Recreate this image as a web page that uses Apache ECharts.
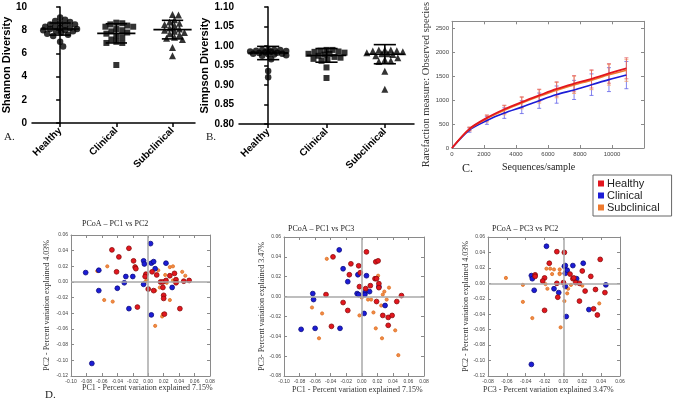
<!DOCTYPE html>
<html><head><meta charset="utf-8">
<script src="https://cdn.jsdelivr.net/npm/echarts@6/dist/echarts.min.js"></script>
<style>html,body{margin:0;padding:0;background:#fff}#c{width:674px;height:403px}</style>
</head><body><div id="c"></div>
<script>
const categories = ['Healthy','Clinical','Subclinical'];
// Panel A: Shannon diversity
const shannonHealthy = [9.1, 8.9, 8.8, 8.7, 8.6, 8.5, 8.5, 8.4, 8.3, 8.3, 8.2, 8.2, 8.1, 8.1, 8.0, 8.0, 7.9, 7.9, 7.8, 7.7, 7.6, 7.5, 7.0, 6.6];
const shannonClinical = [8.65, 8.6, 8.5, 8.4, 8.3, 8.3, 8.1, 8.0, 7.9, 7.8, 7.7, 7.5, 7.4, 7.2, 7.0, 6.9, 6.9, 5.0];
const shannonSubclinical = [9.35, 9.3, 8.9, 8.7, 8.6, 8.5, 8.4, 8.2, 8.1, 8.0, 7.9, 7.8, 7.7, 7.6, 7.4, 7.3, 7.2, 6.5, 5.8];
const shannonMean = [8.1, 7.73, 8.05];
const shannonSD = [0.52, 0.83, 0.8];
// Panel B: Simpson diversity
const simpsonHealthy = [0.99, 0.99, 0.99, 0.99, 0.988, 0.987, 0.986, 0.985, 0.984, 0.983, 0.982, 0.98, 0.98, 0.979, 0.978, 0.976, 0.975, 0.966, 0.936, 0.92];
const simpsonClinical = [0.99, 0.99, 0.988, 0.986, 0.985, 0.983, 0.98, 0.98, 0.978, 0.975, 0.972, 0.97, 0.967, 0.965, 0.962, 0.945, 0.918];
const simpsonSubclinical = [0.99, 0.99, 0.99, 0.988, 0.987, 0.985, 0.983, 0.98, 0.98, 0.978, 0.975, 0.97, 0.965, 0.962, 0.96, 0.935, 0.889];
const simpsonMean = [0.982, 0.976, 0.979];
const simpsonSD = [0.017, 0.0175, 0.0245];
// Panel C: rarefaction
const rareX = [0, 1090, 2180, 3270, 4360, 5450, 6540, 7630, 8720, 9810, 10900];
const rareHealthy = [0, 400, 630, 810, 960, 1100, 1235, 1345, 1445, 1560, 1667];
const rareClinical = [0, 375, 575, 730, 855, 990, 1117, 1215, 1325, 1430, 1525];
const rareSubclinical = [0, 395, 615, 790, 940, 1080, 1210, 1320, 1420, 1530, 1625];
const rareHealthySD = [0, 35, 60, 85, 110, 130, 150, 170, 190, 205, 220];
const rareClinicalSD = [0, 45, 80, 110, 135, 160, 180, 200, 225, 250, 285];
const rareSubclinicalSD = [0, 40, 70, 95, 120, 140, 160, 180, 200, 215, 230];
// Panel D: PCoA  PC1 vs PC2
const d1Healthy = [[-0.047,0.041],[-0.038,0.032],[-0.041,0.013],[-0.025,0.043],[-0.019,0.027],[-0.017,0.019],[-0.016,0.017],[-0.014,-0.032],[-0.003,0.010],[-0.004,0.007],[0.000,-0.009],[0.005,0.013],[0.007,-0.011],[0.011,0.009],[0.016,0.000],[0.019,0.000],[0.019,-0.007],[0.020,-0.017],[0.020,-0.021],[0.021,-0.041],[0.023,0.002],[0.028,0.008],[0.034,0.011],[0.036,0.003],[0.036,-0.001],[0.041,-0.034],[0.046,0.001],[0.053,0.002]];
const d1Clinical = [[-0.081,0.012],[-0.064,0.015],[-0.064,-0.011],[-0.073,-0.104],[-0.040,-0.008],[-0.031,-0.001],[-0.029,0.007],[-0.020,0.007],[-0.025,-0.034],[-0.006,0.027],[-0.005,0.023],[-0.006,-0.003],[0.003,0.049],[0.004,0.024],[0.007,0.026],[0.009,0.017],[0.023,0.024],[0.031,-0.007],[0.004,-0.042]];
const d1Subclinical = [[-0.066,0.014],[-0.053,0.020],[-0.057,-0.023],[-0.046,-0.025],[-0.017,0.020],[-0.004,0.000],[-0.002,0.003],[0.013,0.015],[0.009,-0.011],[0.015,-0.007],[0.022,0.009],[0.024,-0.001],[0.028,0.019],[0.032,0.020],[0.032,0.002],[0.037,-0.001],[0.044,0.013],[0.048,0.008],[0.028,-0.023],[0.018,-0.044],[0.009,-0.056],[0.019,-0.041]];
// PC1 vs PC3
const d2Healthy = [[-0.046,0.002],[-0.037,0.040],[-0.024,-0.006],[-0.018,-0.014],[-0.016,0.022],[-0.014,0.033],[-0.039,-0.030],[-0.004,0.031],[-0.002,0.024],[-0.003,0.010],[0.006,0.045],[0.005,0.008],[0.011,0.011],[0.017,0.018],[0.019,0.018],[0.018,0.035],[0.021,0.036],[0.022,0.013],[0.022,0.009],[0.019,-0.005],[0.027,-0.019],[0.034,-0.021],[0.039,-0.019],[0.034,-0.029],[0.045,-0.005],[0.051,0.001]];
const d2Clinical = [[-0.078,-0.033],[-0.063,0.003],[-0.062,-0.003],[-0.060,-0.032],[-0.029,0.047],[-0.024,0.028],[-0.018,0.015],[-0.006,0.003],[-0.005,0.022],[-0.004,0.002],[0.004,0.004],[0.004,0.002],[0.006,0.021],[0.010,0.005],[0.003,-0.017],[0.022,0.010],[0.030,-0.009],[-0.028,-0.032]];
const d2Subclinical = [[-0.045,0.038],[-0.064,-0.011],[-0.051,-0.017],[-0.055,-0.042],[-0.003,-0.019],[0.000,-0.001],[0.008,-0.003],[0.012,-0.003],[0.015,-0.016],[0.018,-0.032],[0.021,0.021],[0.025,-0.009],[0.027,0.002],[0.029,0.005],[0.032,-0.003],[0.035,0.009],[0.026,-0.042],[0.043,-0.034],[0.047,-0.059]];
// PC3 vs PC2
const d3Healthy = [[-0.007,0.041],[0.001,0.040],[-0.015,0.026],[-0.030,0.011],[-0.030,0.009],[-0.020,0.007],[-0.022,0.003],[-0.007,0.000],[0.000,0.001],[-0.006,-0.018],[-0.020,-0.035],[0.007,0.012],[0.010,0.006],[0.011,0.007],[0.013,0.001],[0.017,0.000],[0.020,0.016],[0.017,-0.023],[0.023,-0.010],[0.029,0.009],[0.034,-0.008],[0.032,-0.033],[0.036,-0.041],[0.039,0.031],[0.044,-0.012]];
const d3Clinical = [[-0.018,0.048],[-0.034,0.010],[-0.033,0.006],[-0.031,-0.009],[-0.034,-0.105],[-0.010,-0.007],[-0.005,-0.012],[0.001,0.022],[0.002,0.023],[0.002,0.013],[0.004,0.017],[0.002,-0.004],[0.010,0.023],[0.014,0.006],[0.021,0.026],[0.003,-0.043],[0.027,-0.034],[0.045,-0.002]];
const d3Subclinical = [[-0.061,0.007],[-0.043,-0.002],[-0.043,-0.024],[-0.033,-0.045],[-0.018,0.019],[-0.014,0.019],[-0.010,0.018],[-0.019,-0.001],[-0.017,-0.007],[-0.012,0.012],[-0.004,0.018],[-0.004,0.013],[-0.004,0.012],[0.001,-0.023],[0.004,-0.013],[0.005,-0.007],[-0.003,-0.057],[0.008,-0.002],[0.020,-0.003],[0.038,-0.026]];

const RED='#e3161e', BLUE='#1c1cd6', ORANGE='#ee7a2e';
const SERIF='"Liberation Serif","DejaVu Serif",serif';
const SANS='"Liberation Sans",Arial,sans-serif';

// deterministic beeswarm offsets (in category units), limited half-width
function swarm(vals, pxY, pxX, diam, maxW){
  const order = vals.map((v,i)=>i).sort((a,b)=>vals[b]-vals[a]);
  const placed=[], off=new Array(vals.length);
  for(const i of order){
    const y=vals[i]*pxY;
    let best=null, bestD=-1;
    for(let s=0;;s++){
      const k=Math.ceil(s/2)*(s%2?1:-1);
      if(Math.abs(k)>maxW) break;
      const md=placed.reduce((m,p)=>Math.min(m,Math.hypot(p[0]-k,p[1]-y)),1e9);
      if(md>=diam){best=k;bestD=md;break;}
      if(md>bestD){bestD=md;best=k;}
    }
    placed.push([best,y]); off[i]=best/pxX;
  }
  return off;
}
function swarmData(vals, idx, pxY, pxX, diam, maxW){
  const o=swarm(vals,pxY,pxX,diam,maxW);
  return vals.map((v,j)=>[idx+o[j], v]);
}
function meanSdSeries(xi, yi, means, sds){
  return {type:'custom', xAxisIndex:xi, yAxisIndex:yi, z:5, silent:true,
    data: means.map((m,i)=>[i,m,sds[i]]), encode:{x:0,y:1},
    renderItem:(params,api)=>{
      const i=api.value(0), m=api.value(1), s=api.value(2);
      const L=(a,b)=>({type:'line',shape:{x1:a[0],y1:a[1],x2:b[0],y2:b[1]},style:{stroke:'#000',lineWidth:1.6}});
      return {type:'group',children:[
        L(api.coord([i-0.34,m]),api.coord([i+0.34,m])),
        L(api.coord([i-0.19,m+s]),api.coord([i+0.19,m+s])),
        L(api.coord([i-0.19,m-s]),api.coord([i+0.19,m-s])),
        L(api.coord([i,m-s]),api.coord([i,m+s]))
      ]};
    }};
}
function errSeries(color, xs, ys, sds){
  return {type:'custom', xAxisIndex:2, yAxisIndex:2, silent:true, z:3,
    data: xs.map((x,i)=>[x,ys[i],sds[i]]).filter(d=>d[2]>0), encode:{x:0,y:1},
    renderItem:(params,api)=>{
      const x=api.value(0), y=api.value(1), s=api.value(2);
      const t=api.coord([x,y+s]), b=api.coord([x,y-s]);
      const st={stroke:color,lineWidth:1,opacity:0.75};
      return {type:'group',children:[
        {type:'line',shape:{x1:t[0],y1:t[1],x2:b[0],y2:b[1]},style:st},
        {type:'line',shape:{x1:t[0]-2,y1:t[1],x2:t[0]+2,y2:t[1]},style:st},
        {type:'line',shape:{x1:b[0]-2,y1:b[1],x2:b[0]+2,y2:b[1]},style:st}
      ]};
    }};
}
const boldLbl={fontFamily:SANS,fontWeight:'bold',fontSize:10,color:'#000'};
function catAxisX(grid,max){
  return {type:'value',gridIndex:grid,min:-0.5,max:max,
    axisLine:{lineStyle:{color:'#000',width:1.5}},splitLine:{show:false},
    axisTick:{customValues:[0,1,2],length:4,lineStyle:{color:'#000',width:1.5}},
    axisLabel:{customValues:[0,1,2],rotate:45,margin:6,formatter:v=>categories[Math.round(v)],...boldLbl}};
}
const grayLine={lineStyle:{color:'#8a8a8a',width:1}};
function boxAxes(grid,xmin,xmax,xint,ymin,ymax,yint,fs,lblFmt,showMax){
  const xa=[{type:'value',gridIndex:grid,min:xmin,max:xmax,interval:xint,position:'bottom',
      axisLine:{...grayLine,onZero:false},splitLine:{show:false},axisTick:{inside:true,length:3,...grayLine},
      axisLabel:{fontSize:fs,color:'#444',margin:3,fontFamily:SANS,formatter:lblFmt,showMaxLabel:showMax}},
    {type:'value',gridIndex:grid,min:xmin,max:xmax,interval:xint,position:'top',
      axisLine:{...grayLine,onZero:false},splitLine:{show:false},axisTick:{inside:true,length:3,...grayLine},axisLabel:{show:false}}];
  const ya=[{type:'value',gridIndex:grid,min:ymin,max:ymax,interval:yint,position:'left',
      axisLine:{...grayLine,onZero:false},splitLine:{show:false},axisTick:{inside:true,length:3,...grayLine},
      axisLabel:{fontSize:fs,color:'#444',margin:3,fontFamily:SANS,formatter:lblFmt,showMaxLabel:showMax}},
    {type:'value',gridIndex:grid,min:ymin,max:ymax,interval:yint,position:'right',
      axisLine:{...grayLine,onZero:false},splitLine:{show:false},axisTick:{inside:true,length:3,...grayLine},axisLabel:{show:false}}];
  return [xa,ya];
}
const f2=v=>v.toFixed(2);
const C=boxAxes(2,0,12000,2000,0,2650,500,6,v=>String(v),false);
const D1=boxAxes(3,-0.10,0.08,0.02,-0.12,0.06,0.02,5,f2,true);
const D2=boxAxes(4,-0.10,0.08,0.02,-0.08,0.06,0.02,5,f2,true);
const D3=boxAxes(5,-0.08,0.06,0.02,-0.12,0.06,0.02,5,f2,true);
C[1][0].name='Rarefaction measure: Observed species';
C[1][0].nameLocation='middle'; C[1][0].nameGap=17; C[1][0].nameTextStyle={fontFamily:SERIF,fontSize:10.5,color:'#333'};
const pcName=(ax,name,gap)=>{ax.name=name;ax.nameLocation='middle';ax.nameGap=gap;ax.nameTextStyle={fontFamily:SERIF,fontSize:8,color:'#333'};};
pcName(D1[1][0],'PC2 - Percent variation explained 4.03%',20);
pcName(D2[1][0],'PC3- Percent variation explained 3.47%',16);
pcName(D3[1][0],'PC2 - Percent variation explained 4.03%',17);

const xAxes=[catAxisX(0,2.4),catAxisX(1,2.5),...C[0],...D1[0],...D2[0],...D3[0]];
const yAxes=[
  {type:'value',gridIndex:0,min:0,max:10,interval:2,name:'Shannon Diversity',nameLocation:'middle',nameGap:18,
   nameTextStyle:{fontFamily:SANS,fontWeight:'bold',fontSize:11,color:'#000'},
   axisLine:{show:true,lineStyle:{color:'#000',width:1.5}},axisTick:{show:true,length:4,lineStyle:{color:'#000',width:1.5}},
   splitLine:{show:false},axisLabel:{margin:5,...boldLbl}},
  {type:'value',gridIndex:1,min:0.80,max:1.10,interval:0.05,name:'Simpson Diversity',nameLocation:'middle',nameGap:26,
   nameTextStyle:{fontFamily:SANS,fontWeight:'bold',fontSize:11,color:'#000'},
   axisLine:{show:true,lineStyle:{color:'#000',width:1.5}},axisTick:{show:true,length:4,lineStyle:{color:'#000',width:1.5}},
   splitLine:{show:false},axisLabel:{margin:5,formatter:f2,...boldLbl}},
  ...C[1],...D1[1],...D2[1],...D3[1]];

function pcoa(name,xi,yi,data,color,border,size,z){
  return {type:'scatter',name:name,xAxisIndex:xi,yAxisIndex:yi,data:data,z:z,silent:true,
    symbol:'circle',symbolSize:size,itemStyle:{color:color,borderColor:border,borderWidth:0.8,opacity:1}};
}
function zeroLines(xi,yi){
  return {type:'line',xAxisIndex:xi,yAxisIndex:yi,data:[],silent:true,z:1,
    markLine:{silent:true,symbol:'none',label:{show:false},animation:false,
      lineStyle:{color:'#a8a8a8',width:1.5,type:'solid'},data:[{xAxis:0},{yAxis:0}]}};
}
const blk={color:'#000'};
const series=[
  {type:'line',name:'Healthy',xAxisIndex:2,yAxisIndex:2,data:rareX.map((x,i)=>[x,rareHealthy[i]]),showSymbol:false,smooth:0.3,color:RED,itemStyle:{color:RED},lineStyle:{width:1.8,color:RED},z:5},
  {type:'line',name:'Clinical',xAxisIndex:2,yAxisIndex:2,data:rareX.map((x,i)=>[x,rareClinical[i]]),showSymbol:false,smooth:0.3,color:BLUE,itemStyle:{color:BLUE},lineStyle:{width:1.6,color:BLUE},z:4},
  {type:'line',name:'Subclinical',xAxisIndex:2,yAxisIndex:2,data:rareX.map((x,i)=>[x,rareSubclinical[i]]),showSymbol:false,smooth:0.3,color:ORANGE,itemStyle:{color:ORANGE},lineStyle:{width:1.6,color:ORANGE},z:4},
  errSeries('#5a5ae8',rareX,rareClinical,rareClinicalSD),
  errSeries('#f29a60',rareX,rareSubclinical,rareSubclinicalSD),
  errSeries('#e25a60',rareX,rareHealthy,rareHealthySD),
  {type:'scatter',xAxisIndex:0,yAxisIndex:0,symbol:'circle',symbolSize:6.5,itemStyle:blk,data:swarmData(shannonHealthy,0,11.6,56.6,5.5,17)},
  {type:'scatter',xAxisIndex:0,yAxisIndex:0,symbol:'rect',symbolSize:6,itemStyle:blk,data:swarmData(shannonClinical,1,11.6,56.6,5.5,17)},
  {type:'scatter',xAxisIndex:0,yAxisIndex:0,symbol:'triangle',symbolSize:7,itemStyle:blk,data:swarmData(shannonSubclinical,2,11.6,56.6,5.5,17)},
  meanSdSeries(0,0,shannonMean,shannonSD),
  {type:'scatter',xAxisIndex:1,yAxisIndex:1,symbol:'circle',symbolSize:6.5,itemStyle:blk,data:swarmData(simpsonHealthy,0,390,58.3,5.5,18)},
  {type:'scatter',xAxisIndex:1,yAxisIndex:1,symbol:'rect',symbolSize:6,itemStyle:blk,data:swarmData(simpsonClinical,1,390,58.3,5.5,18)},
  {type:'scatter',xAxisIndex:1,yAxisIndex:1,symbol:'triangle',symbolSize:7,itemStyle:blk,data:swarmData(simpsonSubclinical,2,390,58.3,5.5,18)},
  meanSdSeries(1,1,simpsonMean,simpsonSD),
  zeroLines(4,4), zeroLines(6,6), zeroLines(8,8),
  pcoa('Subclinical',4,4,d1Subclinical,'#f08a48','#e07020',3.2,3),
  pcoa('Clinical',4,4,d1Clinical,BLUE,'#0a0a80',4.8,4),
  pcoa('Healthy',4,4,d1Healthy,RED,'#8a0a0a',4.8,4),
  pcoa('Subclinical',6,6,d2Subclinical,'#f08a48','#e07020',3.2,3),
  pcoa('Clinical',6,6,d2Clinical,BLUE,'#0a0a80',4.8,4),
  pcoa('Healthy',6,6,d2Healthy,RED,'#8a0a0a',4.8,4),
  pcoa('Subclinical',8,8,d3Subclinical,'#f08a48','#e07020',3.2,3),
  pcoa('Clinical',8,8,d3Clinical,BLUE,'#0a0a80',4.8,4),
  pcoa('Healthy',8,8,d3Healthy,RED,'#8a0a0a',4.8,4)
];
const txt=(t,x,y,fs,extra)=>({type:'text',left:x,top:y,silent:true,style:{text:t,font:fs+'px '+SERIF,fill:'#222',...(extra||{})}});
const option={
  animation:false,
  grid:[
    {left:31,top:7,width:164,height:116},
    {left:239,top:7,width:175,height:117},
    {left:452,top:4,width:192,height:144},
    {left:71,top:235,width:139,height:141},
    {left:284,top:237,width:140,height:139},
    {left:488,top:237,width:132,height:139}
  ],
  xAxis:xAxes, yAxis:yAxes, series:series,
  legend:{data:['Healthy','Clinical','Subclinical'],orient:'vertical',left:593,top:175,icon:'rect',itemWidth:6,itemHeight:6,itemGap:1,
    borderColor:'#666',borderWidth:1,padding:[3,12,3,5],selectedMode:false,
    textStyle:{fontFamily:SANS,fontSize:11,color:'#222',padding:[0,0,0,-2]}},
  graphic:[
    txt('A.',4,132,11), txt('B.',206,132,11), txt('C.',462,163,12), txt('D.',45,390,11),
    txt('Sequences/sample',502,162,10),
    txt('PCoA – PC1 vs PC2',82,220,8),
    txt('PCoA – PC1 vs PC3',288,225,8),
    txt('PCoA – PC3 vs PC2',492,225,8),
    txt('PC1 - Percent variation explained 7.15%',82,384,8,{fill:'#333'}),
    txt('PC1 - Percent variation explained 7.15%',292,386,8,{fill:'#333'}),
    txt('PC3 - Percent variation explained 3.47%',483,386,8,{fill:'#333'})
  ]
};
const chart=echarts.init(document.getElementById('c'),null,{renderer:'canvas'});
chart.setOption(option);
</script></body></html>
